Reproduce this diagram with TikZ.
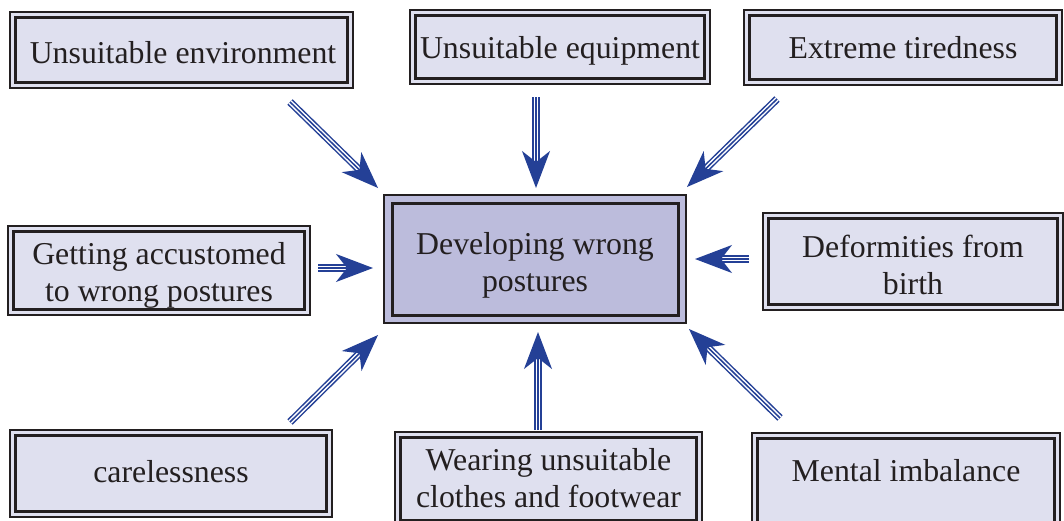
\documentclass[tikz,border=0pt]{standalone}
\usepackage{fontspec}
\setmainfont{Liberation Serif}
\usetikzlibrary{arrows.meta,calc}
\definecolor{ink}{HTML}{231F20}
\definecolor{boxfill}{HTML}{DFE0EF}
\definecolor{midfill}{HTML}{BCBCDC}
\definecolor{ablue}{RGB}{36,64,150}
\tikzset{
  obox/.style={draw=ink, line width=2pt, fill=boxfill, inner sep=0pt},
  ibox/.style={draw=ink, line width=3pt},
  txt/.style={text=ink, align=center, inner sep=0pt, font=\fontsize{31.8}{37}\selectfont},
}
\newcommand\pbox[7]{% name, cx, cy, w, h, inset, fill
  \node[obox, fill=#7, minimum width=#4pt, minimum height=#5pt] (#1) at (#2,#3) {};
  \draw[ibox] ([shift={(#6pt,-#6pt)}]#1.north west) rectangle ([shift={(-#6pt,#6pt)}]#1.south east);
}
\newcommand\triarrow[2]{%
  \draw[ablue, line width=7.5pt, shorten >=20pt] (#1) -- (#2);
  \draw[white, line width=4.5pt, shorten >=20pt] (#1) -- (#2);
  \draw[ablue, line width=1.5pt, -{Stealth[length=37pt,width=28pt,inset=11pt]}] (#1) -- (#2);
}
\begin{document}
\begin{tikzpicture}[x=1pt,y=-1pt]
\useasboundingbox (0,0) rectangle (1064,520);
\clip (0,0) rectangle (1064,520);
% boxes
\pbox{env}{181.5}{50}{343}{76}{6.5}{boxfill}
\pbox{equ}{560}{47}{300}{74}{6.5}{boxfill}
\pbox{tir}{903}{47.5}{318}{75}{6.5}{boxfill}
\pbox{acc}{159}{270.5}{302}{89}{6.5}{boxfill}
\pbox{dev}{535}{259}{302}{128}{9}{midfill}
\pbox{def}{913}{261.5}{300}{97}{6.5}{boxfill}
\pbox{car}{171}{473.5}{322}{87}{6.5}{boxfill}
\pbox{wea}{548.5}{479}{307}{94}{6.5}{boxfill}
\pbox{men}{906}{482.5}{308}{99}{6.5}{boxfill}
% texts
\node[txt] (tenv) at (183,52.5) {Unsuitable environment};
\node[txt] (tequ) at (560,51) {Unsuitable equipment};
\node[txt] (ttir) at (903,47.5) {Extreme tiredness};
\node[txt] (tacc) at (159,275) {Getting accustomed\\to wrong postures};
\node[txt] (tdev) at (535,265) {Developing wrong\\postures};
\node[txt] (tdef) at (913,265) {Deformities from\\birth};
\node[txt] (tcar) at (171,472) {carelessness};
\node[txt] (twea) at (548.5,478) {Wearing unsuitable\\clothes and footwear};
\node[txt] (tmen) at (906,471) {Mental imbalance};
% arrow ends
\coordinate (t1) at (290,102); \coordinate (h1) at (378,188);
\coordinate (t2) at (536,97);  \coordinate (h2) at (536,188);
\coordinate (t3) at (777,99);  \coordinate (h3) at (687,187);
\coordinate (t4) at (318,268); \coordinate (h4) at (373,268);
\coordinate (t5) at (749,259); \coordinate (h5) at (695,259);
\coordinate (t6) at (290,422); \coordinate (h6) at (378,335);
\coordinate (t7) at (538,430); \coordinate (h7) at (538,332);
\coordinate (t8) at (780,418); \coordinate (h8) at (689,329);
\triarrow{t1}{h1}
\triarrow{t2}{h2}
\triarrow{t3}{h3}
\triarrow{t4}{h4}
\triarrow{t5}{h5}
\triarrow{t6}{h6}
\triarrow{t7}{h7}
\triarrow{t8}{h8}
\end{tikzpicture}
\end{document}
